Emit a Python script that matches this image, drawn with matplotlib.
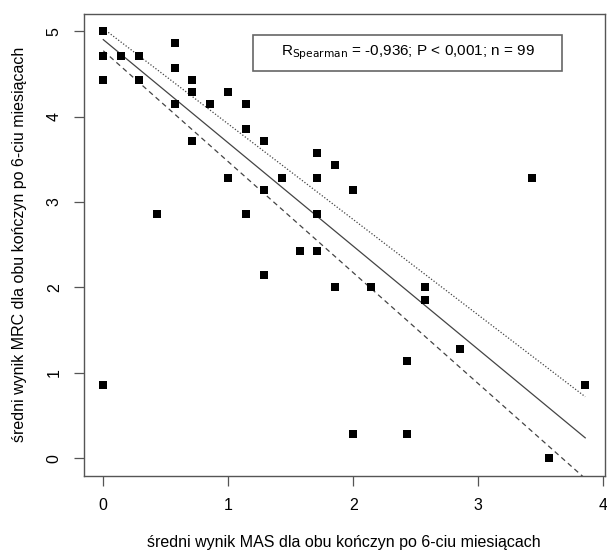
import numpy as np
import matplotlib
matplotlib.use('Agg')
from matplotlib import pyplot as plt
from matplotlib.patches import Rectangle

plt.rcParams['font.family'] = ['Liberation Sans', 'DejaVu Sans']

# srednie wyniki MAS (x) i MRC (y)
mas = [0, 0, 0.143, 0.286, 0, 0.286, 0.571, 0.571, 0.714, 0.714, 0.571, 0.857,
       1.0, 1.143, 1.143, 0.714, 1.286, 1.714, 1.0, 1.429, 1.714, 1.286, 0.429,
       1.143, 1.714, 1.571, 1.714, 1.857, 2.0, 3.429, 0, 1.286, 1.857, 2.143,
       2.571, 2.571, 2.857, 2.429, 3.857, 2.0, 2.429, 3.571]
mrc = [5.0, 4.714, 4.714, 4.714, 4.429, 4.429, 4.857, 4.571, 4.429, 4.286, 4.143, 4.143,
       4.286, 4.143, 3.857, 3.714, 3.714, 3.571, 3.286, 3.286, 3.286, 3.143, 2.857,
       2.857, 2.857, 2.429, 2.429, 3.429, 3.143, 3.286, 0.857, 2.143, 2.0, 2.0,
       2.0, 1.857, 1.286, 1.143, 0.857, 0.286, 0.286, 0.0]

# linie: regresja i granice
line_icpt = [5.03, 4.90, 4.77]
line_slope = [-1.117, -1.208, -1.298]
line_style = [(0, (1, 1.5)), '-', (0, (4, 3))]

fig = plt.figure(figsize=(6.07, 5.52), dpi=100)
ax = fig.add_axes([84/607, 1-475.5/552, (604.5-84)/607, (475.5-14)/552])

ax.scatter(mas, mrc, marker='s', s=30, color='black', linewidths=0, zorder=3)

xs = np.array([0, max(mas)])
for b, a, ls in zip(line_icpt, line_slope, line_style):
    ax.plot(xs, b + a*xs, color='#444444', lw=0.9, linestyle=ls)

xmin, xmax = 0, max(mas)
ax.set_xlim(xmin - 0.04*(xmax-xmin), xmax + 0.04*(xmax-xmin))
ax.set_ylim(-0.2, 5.2)
ax.set_xticks([0, 1, 2, 3, 4])
ax.set_yticks([0, 1, 2, 3, 4, 5])
ax.tick_params(length=7, width=0.9, color='#555555', labelsize=11.5, pad=9)
for lab in ax.get_yticklabels():
    lab.set_rotation(90)
    lab.set_va('center')
for sp in ax.spines.values():
    sp.set_color('#555555')
    sp.set_linewidth(1.0)

ax.set_xlabel('średni wynik MAS dla obu kończyn po 6-ciu miesiącach', fontsize=11.5, labelpad=16)
ax.set_ylabel('średni wynik MRC dla obu kończyn po 6-ciu miesiącach', fontsize=11.5, labelpad=14)

ax.add_patch(Rectangle((1.2, 4.53), 2.475, 0.43, fill=False, edgecolor='#666666', lw=1.2, zorder=4))
ax.text(1.2 + 2.475/2, 4.745, r'R$_{\mathrm{Spearman}}$ = -0,936; P < 0,001; n = 99',
        ha='center', va='center', fontsize=11)

plt.savefig('out.png', dpi=100)
